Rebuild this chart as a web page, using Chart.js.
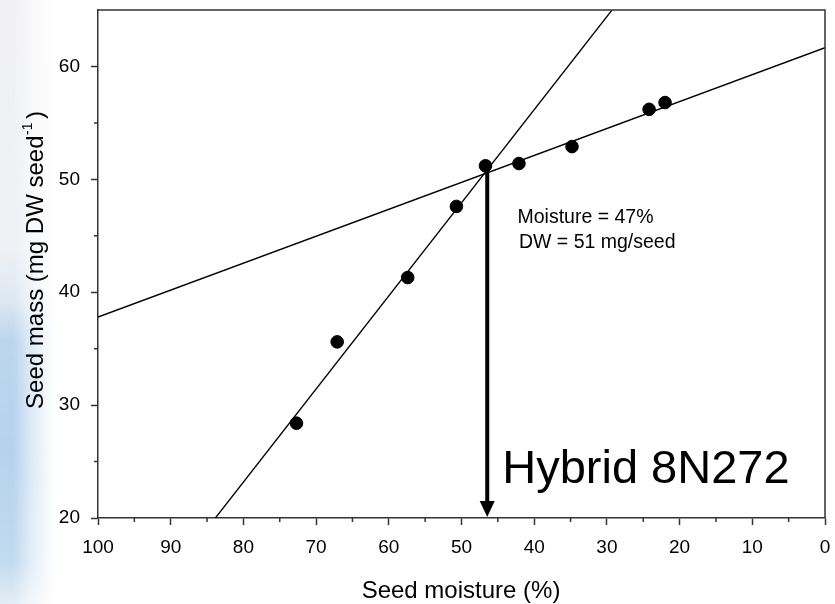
<!DOCTYPE html>
<html>
<head>
<meta charset="utf-8">
<script src="https://cdn.jsdelivr.net/npm/chart.js@4.4.1/dist/chart.umd.min.js"></script>
<style>
  html, body { margin: 0; padding: 0; background: #ffffff; }
  #wrap { position: relative; width: 835px; height: 604px; overflow: hidden; }
  #bg {
    position: absolute; left: 0; top: 0; width: 70px; height: 604px;
    background: linear-gradient(to bottom, #f1f1f3 0px, #eef0f4 250px, #dde8f3 300px, #bcd6ee 340px, #b6d2ed 450px, #c2daf0 560px, #e4edf6 604px);
    -webkit-mask-image: linear-gradient(to right, #000 0px, #000 14px, rgba(0,0,0,0.5) 30px, rgba(0,0,0,0) 55px);
    mask-image: linear-gradient(to right, #000 0px, #000 14px, rgba(0,0,0,0.5) 30px, rgba(0,0,0,0) 55px);
  }
  canvas { position: absolute; left: 0; top: 0; }
</style>
</head>
<body>
<div id="wrap">
  <div id="bg"></div>
  <canvas id="c" width="835" height="604"></canvas>
</div>
<script>
// ---- data ----
const xTicks = [100, 90, 80, 70, 60, 50, 40, 30, 20, 10, 0];
const yTicks = [20, 30, 40, 50, 60];
const xMinorTicks = [95, 85, 75, 65, 55, 45, 35, 25, 15, 5];
const yMinorTicks = [25, 35, 45, 55];
const moisture = [72.7, 67.1, 57.4, 50.7, 46.7, 42.1, 34.8, 24.2, 22.0];
const seedMass = [28.4, 35.6, 41.3, 47.6, 51.2, 51.4, 52.9, 56.2, 56.8];
const steepLineX = [83.85, 29.3];
const steepLineY = [20, 65];
const flatLineX = [100, 0];
const flatLineY = [37.8, 61.66];
const arrowX = [46.46];
const arrowY = [50.6, 20];
const xTitle = 'Seed moisture (%)';
const yTitleMain = 'Seed mass (mg DW seed';
const yTitleSup = '-1';
const yTitleEnd = ')';
const note1 = 'Moisture = 47%';
const note2 = 'DW = 51 mg/seed';
const hybridLabel = 'Hybrid 8N272';

const FONT = "'Liberation Sans', Arial, Helvetica, sans-serif";
const AXIS_COLOR = '#333333';

const pts = moisture.map((m, i) => ({ x: m, y: seedMass[i] }));
const steep = steepLineX.map((x, i) => ({ x: x, y: steepLineY[i] }));
const flat = flatLineX.map((x, i) => ({ x: x, y: flatLineY[i] }));

const decorPlugin = {
  id: 'decor',
  afterDraw(chart) {
    const ctx = chart.ctx;
    const xs = chart.scales.x, ys = chart.scales.y;
    const a = chart.chartArea;
    ctx.save();
    // frame top & right
    ctx.strokeStyle = AXIS_COLOR;
    ctx.lineWidth = 1.5;
    ctx.beginPath();
    ctx.moveTo(a.left, a.top);
    ctx.lineTo(a.right, a.top);
    ctx.lineTo(a.right, a.bottom);
    ctx.stroke();
    // minor ticks
    ctx.beginPath();
    xMinorTicks.forEach(v => {
      const px = xs.getPixelForValue(v);
      ctx.moveTo(px, a.bottom);
      ctx.lineTo(px, a.bottom + 4);
    });
    yMinorTicks.forEach(v => {
      const py = ys.getPixelForValue(v);
      ctx.moveTo(a.left, py);
      ctx.lineTo(a.left - 4, py);
    });
    ctx.stroke();

    // arrow
    const ax = xs.getPixelForValue(arrowX[0]);
    const ay0 = ys.getPixelForValue(arrowY[0]);
    const ay1 = ys.getPixelForValue(arrowY[1]);
    ctx.strokeStyle = '#000';
    ctx.fillStyle = '#000';
    ctx.lineWidth = 4;
    ctx.beginPath();
    ctx.moveTo(ax, ay0);
    ctx.lineTo(ax, ay1 - 14);
    ctx.stroke();
    ctx.beginPath();
    ctx.moveTo(ax - 7.5, ay1 - 17);
    ctx.lineTo(ax + 7.5, ay1 - 17);
    ctx.lineTo(ax, ay1 - 1);
    ctx.closePath();
    ctx.fill();

    // annotations
    ctx.fillStyle = '#000';
    ctx.textAlign = 'left';
    ctx.textBaseline = 'alphabetic';
    ctx.font = '19.5px ' + FONT;
    ctx.fillText(note1, xs.getPixelForValue(42.3), ys.getPixelForValue(46.15));
    ctx.fillText(note2, xs.getPixelForValue(42.1), ys.getPixelForValue(43.93));
    ctx.font = '47px ' + FONT;
    ctx.fillText(hybridLabel, xs.getPixelForValue(44.4), ys.getPixelForValue(23.08));

    // x title
    ctx.font = '24px ' + FONT;
    ctx.textAlign = 'center';
    ctx.fillText(xTitle, (a.left + a.right) / 2 - 0.5, 597.5);

    // y title (rotated, with superscript)
    ctx.translate(43, 260);
    ctx.rotate(-Math.PI / 2);
    ctx.textAlign = 'left';
    ctx.font = '24px ' + FONT;
    const w1 = ctx.measureText(yTitleMain).width;
    const w3 = ctx.measureText(yTitleEnd).width;
    ctx.font = '14px ' + FONT;
    const w2 = ctx.measureText(yTitleSup).width;
    const gap = 4;
    let x0 = -(w1 + w2 + gap + w3) / 2;
    ctx.font = '24px ' + FONT;
    ctx.fillText(yTitleMain, x0, 0);
    ctx.font = '14px ' + FONT;
    ctx.fillText(yTitleSup, x0 + w1 + 0.5, -11);
    ctx.font = '24px ' + FONT;
    ctx.fillText(yTitleEnd, x0 + w1 + w2 + gap, 0);
    ctx.restore();
  }
};

new Chart(document.getElementById('c'), {
  type: 'scatter',
  data: {
    datasets: [
      {
        label: 'steep fit', data: steep, showLine: true,
        borderColor: '#000', borderWidth: 1.3, pointRadius: 0, fill: false
      },
      {
        label: 'flat fit', data: flat, showLine: true,
        borderColor: '#000', borderWidth: 1.3, pointRadius: 0, fill: false
      },
      {
        label: 'seed mass', data: pts,
        backgroundColor: '#000', borderColor: '#000', pointRadius: 6.3, pointHoverRadius: 6.3
      }
    ]
  },
  options: {
    responsive: false,
    animation: false,
    events: [],
    layout: { padding: { left: 0, top: 10, right: 10, bottom: 0 } },
    plugins: { legend: { display: false }, tooltip: { enabled: false }, title: { display: false } },
    scales: {
      x: {
        type: 'linear', reverse: true, min: 0, max: 100,
        afterBuildTicks: s => { s.ticks = xTicks.map(v => ({ value: v })); },
        afterFit: s => { s.height = 86; s.paddingLeft = 0; s.paddingRight = 0; },
        grid: { drawOnChartArea: false, drawTicks: true, tickLength: 7, tickColor: AXIS_COLOR, tickWidth: 1.5 },
        border: { display: true, color: AXIS_COLOR, width: 1.5 },
        ticks: { color: '#000', font: { family: FONT, size: 19 }, padding: 11, maxRotation: 0, autoSkip: false },
        title: { display: false }
      },
      y: {
        type: 'linear', min: 20, max: 65,
        afterBuildTicks: s => { s.ticks = yTicks.map(v => ({ value: v })); },
        afterFit: s => { s.width = 98; s.paddingTop = 0; s.paddingBottom = 0; },
        grid: { drawOnChartArea: false, drawTicks: true, tickLength: 7, tickColor: AXIS_COLOR, tickWidth: 1.5 },
        border: { display: true, color: AXIS_COLOR, width: 1.5 },
        ticks: { color: '#000', font: { family: FONT, size: 19 }, padding: 11, autoSkip: false },
        title: { display: false }
      }
    }
  },
  plugins: [decorPlugin]
});
</script>
</body>
</html>
